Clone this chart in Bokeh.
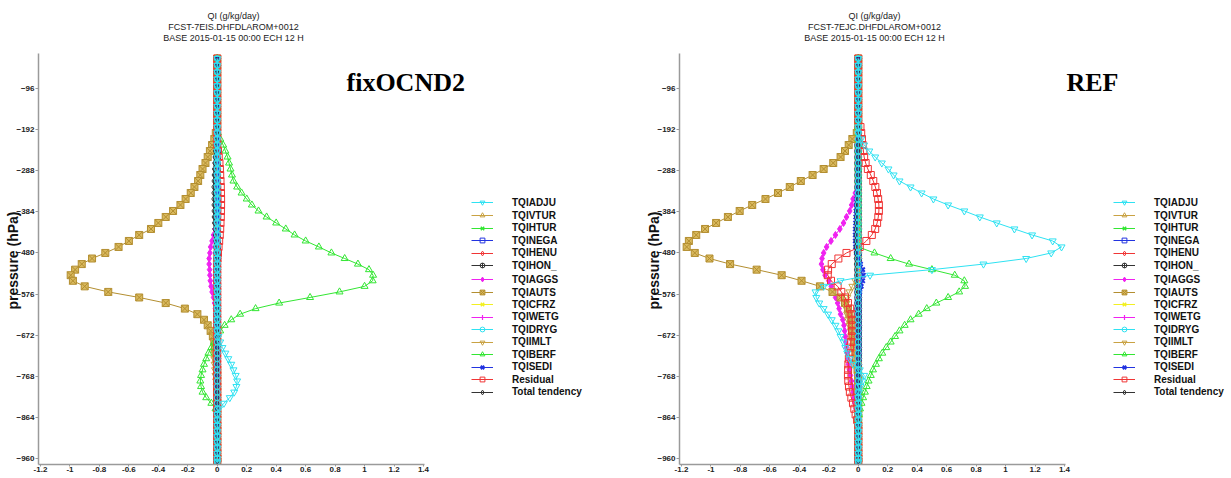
from bokeh.plotting import figure
from bokeh.models import Range1d, FixedTicker, Label, Legend, LegendItem, Title
from bokeh.layouts import row
from bokeh.embed import file_html
from bokeh.resources import INLINE

# ---------------- data ----------------
LEVELS = [-26, -42, -58, -74, -90, -106, -122, -138, -154, -170,
          -186, -200, -214, -228, -242, -256, -270, -284, -298, -312,
          -326, -340, -354, -368, -382, -396, -410, -424, -438, -452,
          -466, -480, -493, -506, -519, -532, -545, -558, -571, -584,
          -597, -610, -623, -636, -649, -662, -675, -688, -701, -714,
          -727, -740, -753, -766, -779, -792, -805, -818, -831, -844,
          -857, -870, -883, -896, -909, -922, -935, -948, -960, -968]

ZEROS = [0, 0, 0, 0, 0, 0, 0, 0, 0, 0,
         0, 0, 0, 0, 0, 0, 0, 0, 0, 0,
         0, 0, 0, 0, 0, 0, 0, 0, 0, 0,
         0, 0, 0, 0, 0, 0, 0, 0, 0, 0,
         0, 0, 0, 0, 0, 0, 0, 0, 0, 0,
         0, 0, 0, 0, 0, 0, 0, 0, 0, 0,
         0, 0, 0, 0, 0, 0, 0, 0, 0, 0]

# ---- left panel: fixOCND2 ----
L_AUTS = [0, 0, 0, 0, 0, 0, 0, 0, 0, 0,
          0, -0.01, -0.02, -0.035, -0.05, -0.065, -0.08, -0.10, -0.115, -0.13,
          -0.155, -0.18, -0.215, -0.25, -0.30, -0.35, -0.40, -0.45, -0.53, -0.60,
          -0.67, -0.76, -0.85, -0.92, -0.965, -0.995, -0.98, -0.90, -0.74, -0.53,
          -0.35, -0.22, -0.135, -0.09, -0.065, -0.045, -0.03, -0.02, -0.015, -0.01,
          -0.006, -0.003, 0, 0, 0, 0, 0, 0, 0, 0,
          0, 0, 0, 0, 0, 0, 0, 0, 0, 0]
L_BERF = [0, 0, 0, 0, 0, 0, 0, 0, 0, 0,
          0, 0.005, 0.02, 0.04, 0.055, 0.07, 0.08, 0.09, 0.10, 0.11,
          0.135, 0.165, 0.20, 0.235, 0.28, 0.335, 0.40, 0.465, 0.525, 0.60,
          0.69, 0.775, 0.865, 0.955, 1.03, 1.058, 1.055, 1.00, 0.83, 0.63,
          0.42, 0.26, 0.155, 0.095, 0.05, 0.02, 0.0, -0.02, -0.04, -0.06,
          -0.075, -0.09, -0.10, -0.11, -0.115, -0.11, -0.10, -0.075, -0.04, -0.012,
          0, 0, 0, 0, 0, 0, 0, 0, 0, 0]
L_ADJU = [0, 0, 0, 0, 0, 0, 0, 0, 0, 0,
          0, 0, 0, 0, 0, 0, 0, 0, 0, 0,
          0, 0, 0, 0, 0, 0, 0, 0, 0, 0,
          0, 0, 0, 0, 0, 0, 0, 0, 0, 0,
          0, 0, 0, 0, 0, 0, 0.008, 0.02, 0.035, 0.055,
          0.075, 0.095, 0.11, 0.125, 0.135, 0.13, 0.115, 0.085, 0.045, 0.012,
          0, 0, 0, 0, 0, 0, 0, 0, 0, 0]
L_AGGS = [0, 0, 0, 0, 0, 0, 0, 0, 0, 0,
          0, 0, 0, 0, 0, 0, 0, 0, 0, 0,
          0, 0, 0, 0, 0, 0, -0.005, -0.015, -0.025, -0.035,
          -0.045, -0.05, -0.055, -0.055, -0.052, -0.05, -0.047, -0.042, -0.035, -0.025,
          -0.018, -0.012, -0.007, -0.003, 0, 0, 0, 0, 0, 0,
          0, 0, 0, 0, 0, 0, 0, 0, 0, 0,
          0, 0, 0, 0, 0, 0, 0, 0, 0, 0]
L_IMLT = [0, 0, 0, 0, 0, 0, 0, 0, 0, 0,
          0, 0, 0, 0, 0, 0, 0, 0, 0, 0,
          0, 0, 0, 0, 0, 0, 0, 0, 0, 0,
          0, 0, 0, 0, 0, 0, 0, 0, 0, 0,
          0, 0, 0, 0, -0.005, -0.01, -0.015, -0.018, -0.02, -0.02,
          -0.02, -0.018, -0.015, -0.012, -0.008, -0.005, 0, 0, 0, 0,
          0, 0, 0, 0, 0, 0, 0, 0, 0, 0]
L_SEDI = [0, 0, 0, 0, 0, 0, 0, 0, 0, 0,
          0, 0, 0, 0, 0, 0, 0, 0, 0, 0,
          0.002, 0.003, 0.004, 0.004, 0.004, 0.004, 0.004, 0.003, 0.003, 0.002,
          0.001, 0, 0, 0, 0, 0, 0, 0, 0, 0,
          0, 0, 0, 0, 0, 0, 0, 0, 0, 0,
          0, 0, 0, 0, 0, 0, 0, 0, 0, 0,
          0, 0, 0, 0, 0, 0, 0, 0, 0, 0]
L_RESID = [0, 0, 0, 0, 0, 0, 0, 0, 0, 0,
           0, 0, 0, 0, 0.005, 0.01, 0.015, 0.018, 0.02, 0.022,
           0.024, 0.025, 0.026, 0.026, 0.025, 0.024, 0.022, 0.02, 0.017, 0.013,
           0.009, 0.005, 0.002, 0, 0, 0, 0, 0, 0, 0,
           0, 0, 0, 0, 0, 0, 0, 0, 0, 0,
           0, 0, 0, 0, 0, 0, 0, 0, 0, 0,
           0, 0, 0, 0, 0, 0, 0, 0, 0, 0]
L_TOTAL = [0, 0, 0, 0, 0, 0, 0, 0, 0, 0,
           0, 0, -0.005, -0.01, -0.015, -0.018, -0.02, -0.022, -0.024, -0.025,
           -0.026, -0.026, -0.026, -0.025, -0.025, -0.024, -0.022, -0.02, -0.017, -0.013,
           -0.01, -0.006, -0.003, 0, 0, 0, 0, 0, 0, 0,
           0, 0, 0, 0, 0, 0, 0, 0, 0, 0,
           0, 0, 0, 0, 0, 0, 0, 0, 0, 0,
           0, 0, 0, 0, 0, 0, 0, 0, 0, 0]

# ---- right panel: REF ----
R_AUTS = [0, 0, 0, 0, 0, 0, 0, 0, 0, 0,
          0, -0.01, -0.04, -0.065, -0.09, -0.12, -0.17, -0.235, -0.31, -0.39,
          -0.465, -0.545, -0.63, -0.72, -0.805, -0.885, -0.965, -1.04, -1.10, -1.15,
          -1.165, -1.11, -1.01, -0.87, -0.69, -0.52, -0.385, -0.26, -0.175, -0.12,
          -0.09, -0.07, -0.06, -0.05, -0.045, -0.04, -0.035, -0.03, -0.025, -0.02,
          -0.015, -0.01, -0.005, 0, 0, 0, 0, 0, 0, 0,
          0, 0, 0, 0, 0, 0, 0, 0, 0, 0]
R_ADJU = [0, 0, 0, 0, 0, 0, 0, 0, 0, 0,
          0, 0.0, 0.02, 0.04, 0.075, 0.115, 0.16, 0.205, 0.24, 0.28,
          0.355, 0.43, 0.51, 0.61, 0.72, 0.825, 0.94, 1.06, 1.18, 1.32,
          1.38, 1.31, 1.14, 0.85, 0.50, 0.08, -0.12, -0.235, -0.29, -0.285,
          -0.265, -0.235, -0.205, -0.18, -0.155, -0.135, -0.12, -0.10, -0.088, -0.075,
          -0.058, -0.035, 0.01, 0.04, 0.03, 0.015, 0.005, 0, 0, 0,
          0, 0, 0, 0, 0, 0, 0, 0, 0, 0]
R_BERF = [0, 0, 0, 0, 0, 0, 0, 0, 0, 0,
          0, 0, 0, 0, 0, 0, 0, 0, 0, 0,
          0, 0, 0, 0, 0, 0, 0, 0, 0, 0,
          0, 0.11, 0.22, 0.345, 0.50, 0.655, 0.72, 0.725, 0.685, 0.61,
          0.53, 0.465, 0.41, 0.355, 0.315, 0.28, 0.25, 0.22, 0.19, 0.163,
          0.14, 0.12, 0.10, 0.085, 0.07, 0.057, 0.045, 0.033, 0.022, 0.012,
          0.005, 0, 0, 0, 0, 0, 0, 0, 0, 0]
R_AGGS = [0, 0, 0, 0, 0, 0, 0, 0, 0, 0,
          0, 0, 0, 0, 0, 0, 0, 0, 0, 0,
          0, -0.02, -0.035, -0.045, -0.058, -0.08, -0.10, -0.125, -0.155, -0.185,
          -0.215, -0.235, -0.246, -0.25, -0.24, -0.225, -0.20, -0.183, -0.168, -0.154,
          -0.14, -0.13, -0.12, -0.105, -0.097, -0.092, -0.088, -0.084, -0.08, -0.075,
          -0.07, -0.066, -0.06, -0.053, -0.046, -0.04, -0.035, -0.03, -0.023, -0.016,
          -0.008, 0, 0, 0, 0, 0, 0, 0, 0, 0]
R_IMLT = [0, 0, 0, 0, 0, 0, 0, 0, 0, 0,
          0, 0, 0, 0, 0, 0, 0, 0, 0, 0,
          0, 0, 0, 0, 0, 0, 0, 0, 0, 0,
          0, 0, 0, 0, 0, 0, -0.02, -0.04, -0.06, -0.075,
          -0.08, -0.08, -0.075, -0.07, -0.06, -0.05, -0.04, -0.03, -0.02, -0.012,
          -0.005, 0, 0, 0, 0, 0, 0, 0, 0, 0,
          0, 0, 0, 0, 0, 0, 0, 0, 0, 0]
R_SEDI = [0, 0, 0, 0, 0, 0, 0, 0, 0, 0,
          0, 0, 0, 0, 0, 0, 0, 0, 0, 0,
          -0.005, -0.008, -0.01, -0.012, -0.015, -0.017, -0.018, -0.02, -0.02, -0.02,
          -0.018, -0.012, 0.0, 0.015, 0.03, 0.035, 0.03, 0.02, 0.01, 0.005,
          0, 0, 0, 0, 0, 0, 0, 0, 0, 0,
          0, 0, 0, 0, 0, 0, 0, 0, 0, 0,
          0, 0, 0, 0, 0, 0, 0, 0, 0, 0]
R_RESID = [0, 0, 0, 0, 0, 0, 0, 0, 0, 0,
           0.015, 0.02, 0.025, 0.03, 0.035, 0.04, 0.05, 0.065, 0.085, 0.102,
           0.116, 0.127, 0.135, 0.14, 0.14, 0.136, 0.128, 0.115, 0.092, 0.055,
           0.01, -0.08, -0.135, -0.18, -0.205, -0.207, -0.185, -0.14, -0.115, -0.09,
           -0.07, -0.055, -0.046, -0.04, -0.04, -0.042, -0.045, -0.05, -0.055, -0.06,
           -0.064, -0.067, -0.069, -0.07, -0.068, -0.063, -0.057, -0.047, -0.036, -0.027,
           -0.018, -0.008, 0, 0, 0, 0, 0, 0, 0, 0]
R_TOTAL = [0, 0, 0, 0, 0, 0, 0, 0, 0, 0,
           0, 0, 0, 0, 0, 0, 0, 0, 0, 0,
           0, 0, -0.01, -0.012, -0.014, -0.015, -0.016, -0.017, -0.018, -0.018,
           -0.018, -0.017, -0.016, -0.015, -0.014, -0.012, -0.01, -0.006, -0.003, 0,
           0, 0, 0, 0, 0, 0, 0, 0, 0, 0,
           0, 0, 0, 0, 0, 0, 0, 0, 0, 0,
           0, 0, 0, 0, 0, 0, 0, 0, 0, 0]

SERIES_NAMES = ["TQIADJU", "TQIVTUR", "TQIHTUR", "TQINEGA", "TQIHENU", "TQIHON_",
                "TQIAGGS", "TQIAUTS", "TQICFRZ", "TQIWETG", "TQIDRYG", "TQIIMLT",
                "TQIBERF", "TQISEDI", "Residual", "Total tendency"]

LEFT_DATA = {"TQIADJU": L_ADJU, "TQIVTUR": ZEROS, "TQIHTUR": ZEROS, "TQINEGA": ZEROS,
             "TQIHENU": ZEROS, "TQIHON_": ZEROS, "TQIAGGS": L_AGGS, "TQIAUTS": L_AUTS,
             "TQICFRZ": ZEROS, "TQIWETG": ZEROS, "TQIDRYG": ZEROS, "TQIIMLT": L_IMLT,
             "TQIBERF": L_BERF, "TQISEDI": L_SEDI, "Residual": L_RESID, "Total tendency": L_TOTAL}
RIGHT_DATA = {"TQIADJU": R_ADJU, "TQIVTUR": ZEROS, "TQIHTUR": ZEROS, "TQINEGA": ZEROS,
              "TQIHENU": ZEROS, "TQIHON_": ZEROS, "TQIAGGS": R_AGGS, "TQIAUTS": R_AUTS,
              "TQICFRZ": ZEROS, "TQIWETG": ZEROS, "TQIDRYG": ZEROS, "TQIIMLT": R_IMLT,
              "TQIBERF": R_BERF, "TQISEDI": R_SEDI, "Residual": R_RESID, "Total tendency": R_TOTAL}

TITLE_L = ["QI (g/kg/day)", "FCST-7EIS.DHFDLAROM+0012", "BASE 2015-01-15 00:00 ECH 12 H"]
TITLE_R = ["QI (g/kg/day)", "FCST-7EJC.DHFDLAROM+0012", "BASE 2015-01-15 00:00 ECH 12 H"]
TAG_L = "fixOCND2"
TAG_R = "REF"
Y_LABEL = "pressure (hPa)"

XTICKS = [-1.2, -1.0, -0.8, -0.6, -0.4, -0.2, 0.0, 0.2, 0.4, 0.6, 0.8, 1.0, 1.2, 1.4]
XTICK_LABELS = ["-1.2", "-1", "-0.8", "-0.6", "-0.4", "-0.2", "0", "0.2", "0.4", "0.6",
                "0.8", "1", "1.2", "1.4"]
YTICKS = [-96, -192, -288, -384, -480, -576, -672, -768, -864, -960]

# ---------------- styles ----------------
CYAN = "#2EE2F2"
TAN = "#C9A243"
GREEN = "#33E633"
BLUE = "#2233E0"
RED = "#F03535"
BLACK = "#333333"
MAGENTA = "#F022F0"
YELLOW = "#F2F022"

STYLE = {
    "TQIADJU": dict(color=CYAN, marker="inverted_triangle", fill=None, size=7, lw=1),
    "TQIVTUR": dict(color=TAN, marker="triangle", fill=None, size=7, lw=1),
    "TQIHTUR": dict(color=GREEN, marker="x", fill=None, size=6, lw=1.5),
    "TQINEGA": dict(color=BLUE, marker="square", fill=None, size=6, lw=1),
    "TQIHENU": dict(color=RED, marker="diamond", fill=None, size=7, lw=1),
    "TQIHON_": dict(color=BLACK, marker="circle_cross", fill=None, size=7, lw=1),
    "TQIAGGS": dict(color=MAGENTA, marker="diamond", fill=MAGENTA, size=7, lw=1),
    "TQIAUTS": dict(color="#B38E30", marker="square_x", fill="#D9B95E", size=7, lw=1),
    "TQICFRZ": dict(color=YELLOW, marker="x", fill=None, size=6, lw=1.5),
    "TQIWETG": dict(color=MAGENTA, marker="cross", fill=None, size=7, lw=1.2),
    "TQIDRYG": dict(color=CYAN, marker="circle", fill=None, size=6, lw=1),
    "TQIIMLT": dict(color=TAN, marker="inverted_triangle", fill=None, size=7, lw=1),
    "TQIBERF": dict(color=GREEN, marker="triangle", fill=None, size=7, lw=1),
    "TQISEDI": dict(color=BLUE, marker="x", fill=None, size=6, lw=2),
    "Residual": dict(color=RED, marker="square", fill=None, size=7, lw=1),
    "Total tendency": dict(color=BLACK, marker="diamond", fill=None, size=5, lw=1),
}
DRAW_ORDER = ["TQIVTUR", "TQIHTUR", "TQINEGA", "TQIHENU", "TQIHON_", "TQIAGGS",
              "TQIAUTS", "TQICFRZ", "TQIWETG", "TQIIMLT", "TQIBERF", "TQISEDI",
              "Residual", "Total tendency", "TQIDRYG", "TQIADJU"]

# ---------------- layout constants (page pixels, page origin = figure origin) ----------------
FIG_H = 478
MB_LEFT, MB_BOTTOM = 38, 14
FRAME_BOTTOM = FIG_H - MB_BOTTOM                 # 464
PX_PER_X = 147.3
X_LO, X_HI = -1.2136, 1.4068                     # x-axis extent
PX_PER_Y = (458 - 88) / (960 - 96)               # -96 at y=88, -960 at y=458
Y_LO = -960 - (FRAME_BOTTOM - 458) / PX_PER_Y
Y_HI = -96 + 88 / PX_PER_Y
Y_AX_TOP = -96 + (88 - 53) / PX_PER_Y            # axis line starts at y=53
LEG_Y = [202.3, 215, 227.7, 240, 252.7, 265, 279.3, 292.3, 304.3, 316.7, 329.3,
         341.7, 354, 366.7, 379, 391.7]
TITLE_Y = [15, 26.3, 37.7]
FONT = "Liberation Sans"


def make_panel(data, titles, tag, tag_x, fig_w, leg_x):
    frame_w = fig_w - MB_LEFT
    p = figure(width=fig_w, height=FIG_H,
               min_border_left=MB_LEFT, min_border_right=0,
               min_border_top=0, min_border_bottom=MB_BOTTOM,
               x_range=Range1d(X_LO, X_LO + frame_w / PX_PER_X),
               y_range=Range1d(Y_LO, Y_HI),
               output_backend="svg", toolbar_location=None, tools="")
    p.xgrid.visible = False
    p.ygrid.visible = False
    p.outline_line_color = None
    p.background_fill_color = "white"
    p.border_fill_color = "white"

    for ax in (p.xaxis[0], p.yaxis[0]):
        ax.axis_line_color = "#9a9a9a"
        ax.axis_line_width = 1.5
        ax.major_tick_line_color = "#9a9a9a"
        ax.major_tick_out = 3
        ax.major_tick_in = 0
        ax.minor_tick_out = 0
        ax.minor_tick_line_color = None
        ax.major_label_text_font = FONT
        ax.major_label_text_font_style = "bold"
        ax.major_label_text_font_size = "8px"
        ax.major_label_text_color = "#222222"
        ax.major_label_standoff = 1
    xa = p.xaxis[0]
    xa.bounds = (X_LO, X_HI)
    xa.major_tick_out = 2
    xa.major_label_standoff = 0
    xa.ticker = FixedTicker(ticks=XTICKS)
    xa.major_label_overrides = {t: s for t, s in zip(XTICKS, XTICK_LABELS)}
    ya = p.yaxis[0]
    ya.bounds = (Y_LO, Y_AX_TOP)
    ya.ticker = FixedTicker(ticks=YTICKS)

    # y-axis title, placed along the axis like the reference
    p.add_layout(Title(text=Y_LABEL, align="left", offset=FRAME_BOTTOM - 309,
                       vertical_align="middle", standoff=-16,
                       text_font=FONT, text_font_style="bold",
                       text_font_size="14px", text_color="#111111"), "left")

    items = {}
    for name in DRAW_ORDER:
        st = STYLE[name]
        vals = data[name]
        rl = p.line(x=vals, y=LEVELS, line_color=st["color"], line_width=1)
        kw = dict(marker=st["marker"], size=st["size"], line_color=st["color"],
                  line_width=st["lw"])
        if st["fill"] is None:
            kw["fill_alpha"] = 0
        else:
            kw["fill_color"] = st["fill"]
        rs = p.scatter(x=vals, y=LEVELS, **kw)
        items[name] = [rl, rs]

    for name, yy in zip(SERIES_NAMES, LEG_Y):
        leg = Legend(items=[LegendItem(label=name, renderers=items[name])],
                     location=(leg_x, FRAME_BOTTOM - (yy + 6)),
                     padding=0, margin=0, spacing=0,
                     glyph_width=22, glyph_height=12, label_height=12,
                     label_standoff=19, label_text_font=FONT,
                     label_text_font_style="bold", label_text_font_size="10px",
                     label_text_color="#111111",
                     border_line_color=None, background_fill_alpha=0)
        p.add_layout(leg)

    for txt, yy in zip(titles, TITLE_Y):
        p.add_layout(Label(x=195, y=FRAME_BOTTOM - yy,
                           x_units="screen", y_units="screen", text=txt,
                           text_align="center", text_baseline="middle",
                           text_font=FONT, text_font_size="9px",
                           text_color="#222222"))
    p.add_layout(Label(x=tag_x, y=FRAME_BOTTOM - 82, x_units="screen",
                       y_units="screen", text=tag, text_align="left",
                       text_baseline="middle", text_font="Liberation Serif",
                       text_font_style="bold", text_font_size="26px",
                       text_color="black"))
    return p


p1 = make_panel(LEFT_DATA, TITLE_L, TAG_L, 308, 641, 433)
p2 = make_panel(RIGHT_DATA, TITLE_R, TAG_R, 387, 590, 434)
layout = row(p1, p2)

open("out.html", "w").write(file_html(layout, INLINE))
